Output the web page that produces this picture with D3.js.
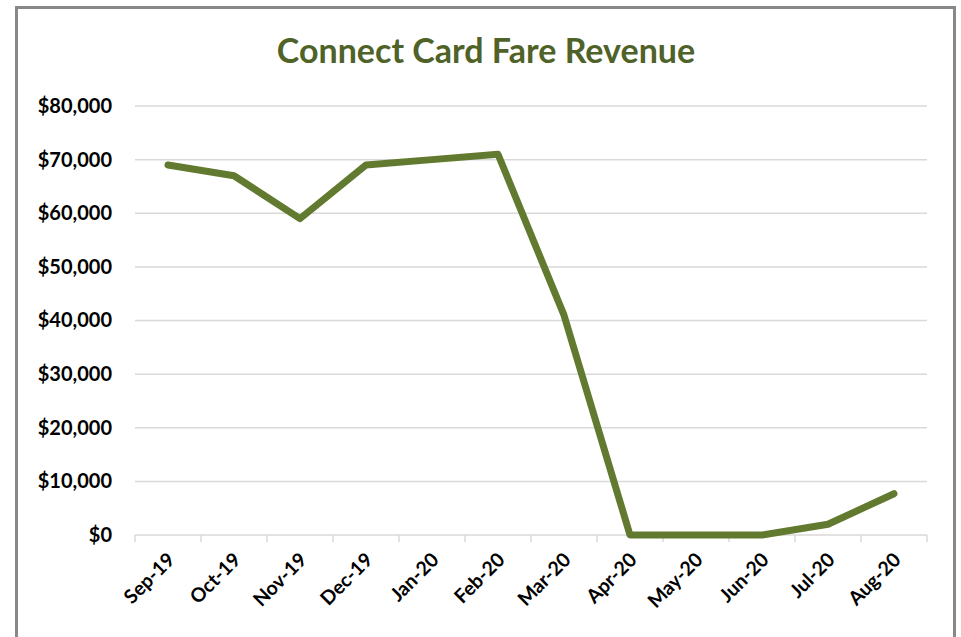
<!DOCTYPE html>
<html><head><meta charset="utf-8">
<script src="https://cdn.jsdelivr.net/npm/d3@7"></script>
<style>body{margin:0;background:#fff}svg{display:block}text{font-family:Lato,"Open Sans",sans-serif}</style>
</head><body><svg id="c" width="961" height="637"></svg>
<script>
const categories = ["Sep-19","Oct-19","Nov-19","Dec-19","Jan-20","Feb-20","Mar-20","Apr-20","May-20","Jun-20","Jul-20","Aug-20"];
const revenue = [69000,67000,59000,69000,70000,71000,41000,0,0,0,2000,7700];
const yTicks = [0,10000,20000,30000,40000,50000,60000,70000,80000];
const title = "Connect Card Fare Revenue";

const svg = d3.select("#c");
svg.append("rect").attr("x",16.5).attr("y",7.5).attr("width",938).attr("height",640)
  .attr("fill","#fff").attr("stroke","#888").attr("stroke-width",3);

const x = d3.scaleBand().domain(categories).range([135,927]);
const y = d3.scaleLinear().domain([0,80000]).range([535,106]);

svg.append("text").attr("x",486).attr("y",63).attr("text-anchor","middle")
  .attr("font-size",34).attr("font-weight","bold").attr("fill","#4f6228").text(title);

// gridlines
svg.append("g").selectAll("line").data(yTicks.filter(d=>d>0)).join("line")
  .attr("x1",135).attr("x2",927).attr("y1",d=>y(d)).attr("y2",d=>y(d))
  .attr("stroke","#d9d9d9").attr("stroke-width",1.5);

// y axis labels
const yAxis = d3.axisLeft(y).tickValues(yTicks).tickSize(0).tickPadding(23)
  .tickFormat(d=>"$"+d3.format(",")(d));
const gy = svg.append("g").attr("transform","translate(135,0)").call(yAxis);
gy.select(".domain").remove();
gy.selectAll("text").attr("font-size",20).attr("font-weight","bold").attr("fill","#000")
  .attr("font-family","Lato,'Open Sans',sans-serif");

// x axis
const gx = svg.append("g").attr("transform","translate(0,535)");
gx.append("line").attr("x1",135).attr("x2",927).attr("stroke","#d9d9d9").attr("stroke-width",1.5);
const tickPos = categories.map(c=>x(c)).concat([x.range()[1]]);
gx.selectAll("line.t").data(tickPos).join("line").attr("class","t")
  .attr("x1",d=>d).attr("x2",d=>d).attr("y1",0).attr("y2",7)
  .attr("stroke","#d9d9d9").attr("stroke-width",1.5);
gx.selectAll("text").data(categories).join("text")
  .attr("transform",d=>`translate(${x(d)+x.bandwidth()/2+8},${26}) rotate(-45)`)
  .attr("text-anchor","end").attr("font-size",19.5).attr("font-weight","bold").attr("fill","#000")
  .text(d=>d);

// line
const line = d3.line().x((d,i)=>x(categories[i])+x.bandwidth()/2).y(d=>y(d));
svg.append("path").datum(revenue).attr("d",line).attr("fill","none")
  .attr("stroke","#617a2f").attr("stroke-width",7).attr("stroke-linejoin","round").attr("stroke-linecap","round");
</script></body></html>
